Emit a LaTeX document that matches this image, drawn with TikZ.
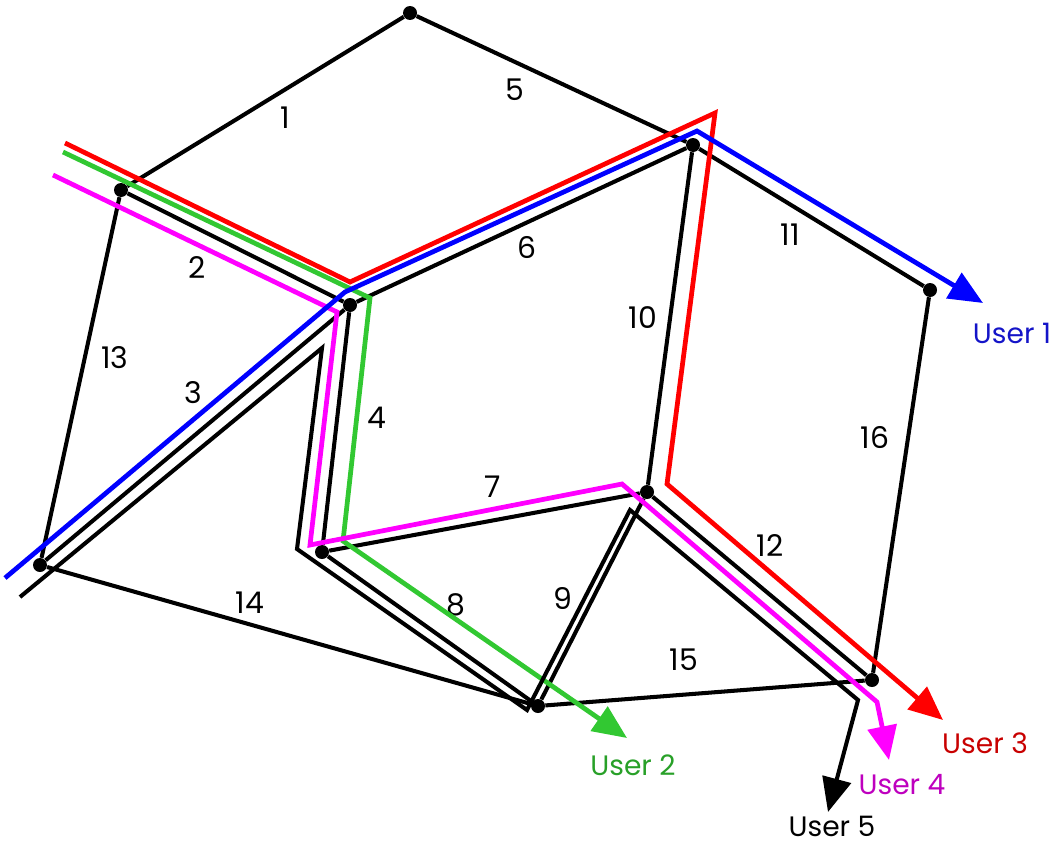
\documentclass[tikz,border=0pt]{standalone}
\usepackage{fontspec}
\setmainfont{Poppins}
\usetikzlibrary{arrows.meta}
\definecolor{routered}{RGB}{255,0,0}
\definecolor{routegreen}{RGB}{50,200,50}
\definecolor{routepink}{RGB}{255,0,255}
\definecolor{routeblue}{RGB}{0,0,255}
\definecolor{textblue}{RGB}{20,20,200}
\definecolor{textgreen}{RGB}{40,160,40}
\definecolor{textred}{RGB}{200,0,0}
\definecolor{textpink}{RGB}{190,0,190}

\begin{document}
\begin{tikzpicture}[
        x=0.02cm, y=-0.02cm,
        dot/.style={circle, fill, inner sep=0pt, minimum size=0.28cm},
        link/.style={line width=2.3pt},
        route/.style={line width=2.7pt, line join=miter, miter limit=20},
        num/.style={font=\fontsize{17}{17}\selectfont},
        usr/.style={font=\fontsize{16}{16}\selectfont},
        >={Triangle[length=0.68cm, width=0.58cm]}
    ]
    \useasboundingbox (0,0) rectangle (1050,845);

    % Network nodes
    \node[dot] (a) at (410,13) {};
    \node[dot] (b) at (121,190) {};
    \node[dot] (c) at (350,305) {};
    \node[dot] (d) at (693,145) {};
    \node[dot] (e) at (930,290) {};
    \node[dot] (f) at (40,565) {};
    \node[dot] (g) at (322,552) {};
    \node[dot] (h) at (647,492) {};
    \node[dot] (i) at (538,706) {};
    \node[dot] (j) at (872,680) {};

    % Links
    \draw[link] (b) -- (a);
    \draw[link] (a) -- (d);
    \draw[link] (b) -- (c);
    \draw[link] (c) -- (d);
    \draw[link] (d) -- (e);
    \draw[link] (b) -- (f);
    \draw[link] (f) -- (c);
    \draw[link] (c) -- (g);
    \draw[link] (g) -- (h);
    \draw[link] (d) -- (h);
    \draw[link] (e) -- (j);
    \draw[link] (f) -- (i);
    \draw[link] (g) -- (i);
    \draw[link] (i) -- (h);
    \draw[link] (h) -- (j);
    \draw[link] (i) -- (j);

    % Link numbers
    \node[num] (n1) at (285,118) {1};
    \node[num] (n5) at (515,90) {5};
    \node[num] (n2) at (197,268) {2};
    \node[num] (n6) at (527,248) {6};
    \node[num] (n11) at (790,235) {11};
    \node[num] (n10) at (643,318) {10};
    \node[num] (n13) at (115,358) {13};
    \node[num] (n3) at (193,393) {3};
    \node[num] (n4) at (377,418) {4};
    \node[num] (n16) at (875,438) {16};
    \node[num] (n7) at (493,487) {7};
    \node[num] (n12) at (770,545) {12};
    \node[num] (n14) at (250,603) {14};
    \node[num] (n8) at (456,605) {8};
    \node[num] (n9) at (563,598) {9};
    \node[num] (n15) at (684,660) {15};

    % Users
    \node[usr, text=textblue] (u1) at (1012,333) {User 1};
    \node[usr, text=textgreen] (u2) at (633,765) {User 2};
    \node[usr, text=textred] (u3) at (985,743) {User 3};
    \node[usr, text=textpink] (u4) at (902,785) {User 4};
    \node[usr] (u5) at (832,826) {User 5};

    % Route ends
    \coordinate (s1) at (5,578);
    \coordinate (t1) at (983,303);
    \coordinate (s2) at (63,152);
    \coordinate (t2) at (627,738);
    \coordinate (s3) at (65,143);
    \coordinate (t3) at (943,720);
    \coordinate (s4) at (53,175);
    \coordinate (t4) at (889,760);
    \coordinate (s5) at (20,597);
    \coordinate (t5) at (828,812);

    % Routes
    \draw[route, routered, ->] (s3) -- (350,282) -- (715,113) -- (667,484) -- (t3);
    \draw[route, routegreen, ->] (s2) -- (370,298) -- (343,541) -- (t2);
    \draw[route, routepink, ->] (s4) -- (337,312) -- (310,545) -- (622,484) -- (877,702) -- (t4);
    \draw[route, routeblue, ->] (s1) -- (345,292) -- (697,131) -- (t1);
    \draw[link, line join=miter, ->] (s5) -- (322,348) -- (297,549) -- (527,710) -- (630,510) -- (858,700) -- (t5);

\end{tikzpicture}
\end{document}
